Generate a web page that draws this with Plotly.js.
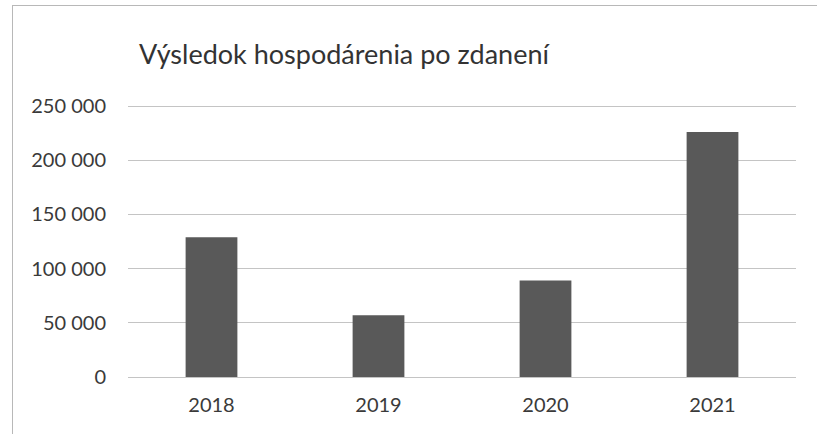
<!DOCTYPE html>
<html>
<head>
<meta charset="utf-8">
<script src="https://cdn.plot.ly/plotly-3.0.1.min.js"></script>
<style>
  html, body { margin: 0; padding: 0; background: #ffffff; }
  #frame { position: absolute; left: 0; top: 0; width: 817px; height: 434px; overflow: hidden; }
  #border { position: absolute; left: 12px; top: 5px; width: 900px; height: 500px; border-left: 1px solid #b8b8b8; border-top: 1px solid #b8b8b8; pointer-events: none; }
  #chart { position: absolute; left: 0; top: 0; width: 817px; height: 434px; }
</style>
</head>
<body>
<div id="frame">
  <div id="chart"></div>
  <div id="border"></div>
</div>
<script>
const categories = ["2018", "2019", "2020", "2021"];
const values = [129000, 57000, 89000, 226000];
const yTicks = [0, 50000, 100000, 150000, 200000, 250000];
const chartTitle = "Výsledok hospodárenia po zdanení";

const fontFamily = "Lato, 'Open Sans', sans-serif";

Plotly.newPlot("chart", [{
  type: "bar",
  x: categories,
  y: values,
  marker: { color: "#595959", line: { width: 0 } },
  hoverinfo: "none"
}], {
  width: 817,
  height: 434,
  margin: { l: 128, r: 21, t: 105, b: 57, pad: 0 },
  paper_bgcolor: "rgba(0,0,0,0)",
  plot_bgcolor: "rgba(0,0,0,0)",
  separators: ", ",
  bargap: 0.69,
  showlegend: false,
  font: { family: fontFamily, color: "#3a3a3a" },
  title: {
    text: chartTitle,
    font: { family: fontFamily, size: 27, color: "#333333" },
    x: 344 / 817, xref: "container", xanchor: "center",
    y: 1 - 55 / 434, yref: "container", yanchor: "middle"
  },
  xaxis: {
    type: "category",
    showgrid: false,
    showline: false,
    zeroline: false,
    ticks: "",
    ticklabelstandoff: 14,
    tickfont: { family: fontFamily, size: 20, color: "#3a3a3a" }
  },
  yaxis: {
    range: [0, 251000],
    tickmode: "array",
    tickvals: yTicks,
    tickformat: ",d",
    showgrid: true,
    gridcolor: "#c4c4c4",
    gridwidth: 1,
    zeroline: true,
    zerolinecolor: "#c4c4c4",
    zerolinewidth: 1,
    showline: false,
    ticks: "",
    ticklabelstandoff: 21,
    tickfont: { family: fontFamily, size: 20, color: "#3a3a3a" }
  }
}, { staticPlot: true, displayModeBar: false });
</script>
</body>
</html>
